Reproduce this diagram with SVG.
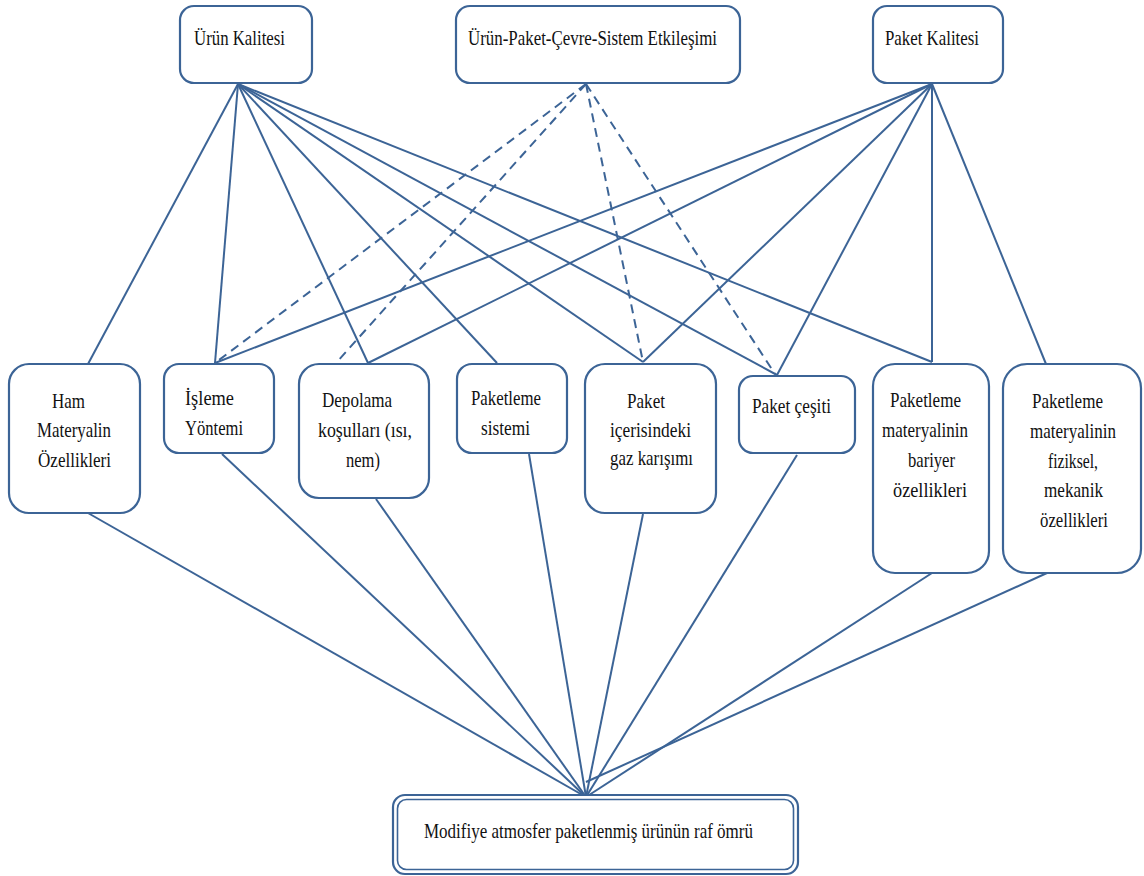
<svg xmlns="http://www.w3.org/2000/svg" width="1144" height="876" viewBox="0 0 1144 876">
<style>
.box{fill:#fff;stroke:#3c6496;stroke-width:2.2}
.dbl{fill:none;stroke:#3c6496;stroke-width:1.6}
.ln{stroke:#3c6496;stroke-width:2;fill:none}
.dash{stroke:#3c6496;stroke-width:2;fill:none;stroke-dasharray:9,6}
text{font-family:"Liberation Serif","Times New Roman",serif;font-size:22px;fill:#111}
</style>
<rect width="1144" height="876" fill="#fff"/>
<g id="connectors">
<line class="ln" x1="238" y1="84" x2="88" y2="364"/>
<line class="ln" x1="238" y1="84" x2="215" y2="363"/>
<line class="ln" x1="238" y1="84" x2="368" y2="363"/>
<line class="ln" x1="238" y1="84" x2="497" y2="363"/>
<line class="ln" x1="238" y1="84" x2="643" y2="362"/>
<line class="ln" x1="238" y1="84" x2="777" y2="375"/>
<line class="ln" x1="238" y1="84" x2="932" y2="362"/>
<line class="ln" x1="932" y1="84" x2="215" y2="363"/>
<line class="ln" x1="932" y1="84" x2="368" y2="363"/>
<line class="ln" x1="932" y1="84" x2="643" y2="362"/>
<line class="ln" x1="932" y1="84" x2="777" y2="375"/>
<line class="ln" x1="932" y1="84" x2="932" y2="362"/>
<line class="ln" x1="932" y1="84" x2="1046" y2="364"/>
<line class="dash" x1="586" y1="84" x2="215" y2="363"/>
<line class="dash" x1="586" y1="84" x2="336" y2="363"/>
<line class="dash" x1="586" y1="84" x2="643" y2="362"/>
<line class="dash" x1="586" y1="84" x2="775" y2="374"/>
<line class="ln" x1="88" y1="513" x2="586" y2="797"/>
<line class="ln" x1="222" y1="454" x2="586" y2="797"/>
<line class="ln" x1="376" y1="499" x2="586" y2="797"/>
<line class="ln" x1="529" y1="454" x2="586" y2="797"/>
<line class="ln" x1="643" y1="514" x2="586" y2="797"/>
<line class="ln" x1="797" y1="455" x2="586" y2="797"/>
<line class="ln" x1="932" y1="573" x2="586" y2="797"/>
<line class="ln" x1="1047" y1="573" x2="586" y2="782"/>
</g>
<g id="urun-kalitesi">
<rect class="box" x="180" y="6" width="132" height="77" rx="14"/>
<text x="194" y="45" textLength="91" lengthAdjust="spacingAndGlyphs">Ürün Kalitesi</text>
</g>
<g id="etkilesim">
<rect class="box" x="456" y="6" width="284" height="77" rx="14"/>
<text x="468" y="45" textLength="249" lengthAdjust="spacingAndGlyphs">Ürün-Paket-Çevre-Sistem Etkileşimi</text>
</g>
<g id="paket-kalitesi">
<rect class="box" x="873" y="6" width="130" height="77" rx="14"/>
<text x="885" y="45" textLength="94" lengthAdjust="spacingAndGlyphs">Paket Kalitesi</text>
</g>
<g id="ham">
<rect class="box" x="9" y="364" width="131" height="149" rx="20"/>
<text x="52" y="408" textLength="33" lengthAdjust="spacingAndGlyphs">Ham</text>
<text x="37" y="437" textLength="74" lengthAdjust="spacingAndGlyphs">Materyalin</text>
<text x="38" y="467" textLength="73" lengthAdjust="spacingAndGlyphs">Özellikleri</text>
</g>
<g id="isleme">
<rect class="box" x="164" y="364" width="110" height="89" rx="15"/>
<text x="185" y="405" textLength="49" lengthAdjust="spacingAndGlyphs">İşleme</text>
<text x="185" y="435" textLength="58" lengthAdjust="spacingAndGlyphs">Yöntemi</text>
</g>
<g id="depolama">
<rect class="box" x="299" y="364" width="130" height="134" rx="20"/>
<text x="322" y="407" textLength="70" lengthAdjust="spacingAndGlyphs">Depolama</text>
<text x="318" y="437" textLength="94" lengthAdjust="spacingAndGlyphs">koşulları (ısı,</text>
<text x="346" y="467" textLength="34" lengthAdjust="spacingAndGlyphs">nem)</text>
</g>
<g id="paketleme-sistemi">
<rect class="box" x="457" y="364" width="110" height="89" rx="15"/>
<text x="471" y="405" textLength="70" lengthAdjust="spacingAndGlyphs">Paketleme</text>
<text x="481" y="435" textLength="49" lengthAdjust="spacingAndGlyphs">sistemi</text>
</g>
<g id="gaz-karisimi">
<rect class="box" x="585" y="364" width="131" height="149" rx="20"/>
<text x="627" y="408" textLength="38" lengthAdjust="spacingAndGlyphs">Paket</text>
<text x="610" y="437" textLength="81" lengthAdjust="spacingAndGlyphs">içerisindeki</text>
<text x="610" y="465" textLength="83" lengthAdjust="spacingAndGlyphs">gaz karışımı</text>
</g>
<g id="paket-cesiti">
<rect class="box" x="739" y="376" width="116" height="77" rx="14"/>
<text x="752" y="413" textLength="79" lengthAdjust="spacingAndGlyphs">Paket çeşiti</text>
</g>
<g id="bariyer">
<rect class="box" x="873" y="364" width="116" height="209" rx="22"/>
<text x="890" y="407" textLength="71" lengthAdjust="spacingAndGlyphs">Paketleme</text>
<text x="882" y="437" textLength="86" lengthAdjust="spacingAndGlyphs">materyalinin</text>
<text x="908" y="467" textLength="47" lengthAdjust="spacingAndGlyphs">bariyer</text>
<text x="893" y="497" textLength="74" lengthAdjust="spacingAndGlyphs">özellikleri</text>
</g>
<g id="fiziksel">
<rect class="box" x="1003" y="364" width="138" height="209" rx="24"/>
<text x="1032" y="408" textLength="71" lengthAdjust="spacingAndGlyphs">Paketleme</text>
<text x="1030" y="438" textLength="86" lengthAdjust="spacingAndGlyphs">materyalinin</text>
<text x="1048" y="468" textLength="50" lengthAdjust="spacingAndGlyphs">fiziksel,</text>
<text x="1044" y="497" textLength="59" lengthAdjust="spacingAndGlyphs">mekanik</text>
<text x="1040" y="527" textLength="68" lengthAdjust="spacingAndGlyphs">özellikleri</text>
</g>
<g id="raf-omru">
<rect class="box" x="393" y="795" width="405" height="79" rx="12"/>
<rect class="dbl" x="397.5" y="799.5" width="396" height="70" rx="9"/>
<text x="424" y="838" textLength="329" lengthAdjust="spacingAndGlyphs">Modifiye atmosfer paketlenmiş ürünün raf ömrü</text>
</g>
</svg>
